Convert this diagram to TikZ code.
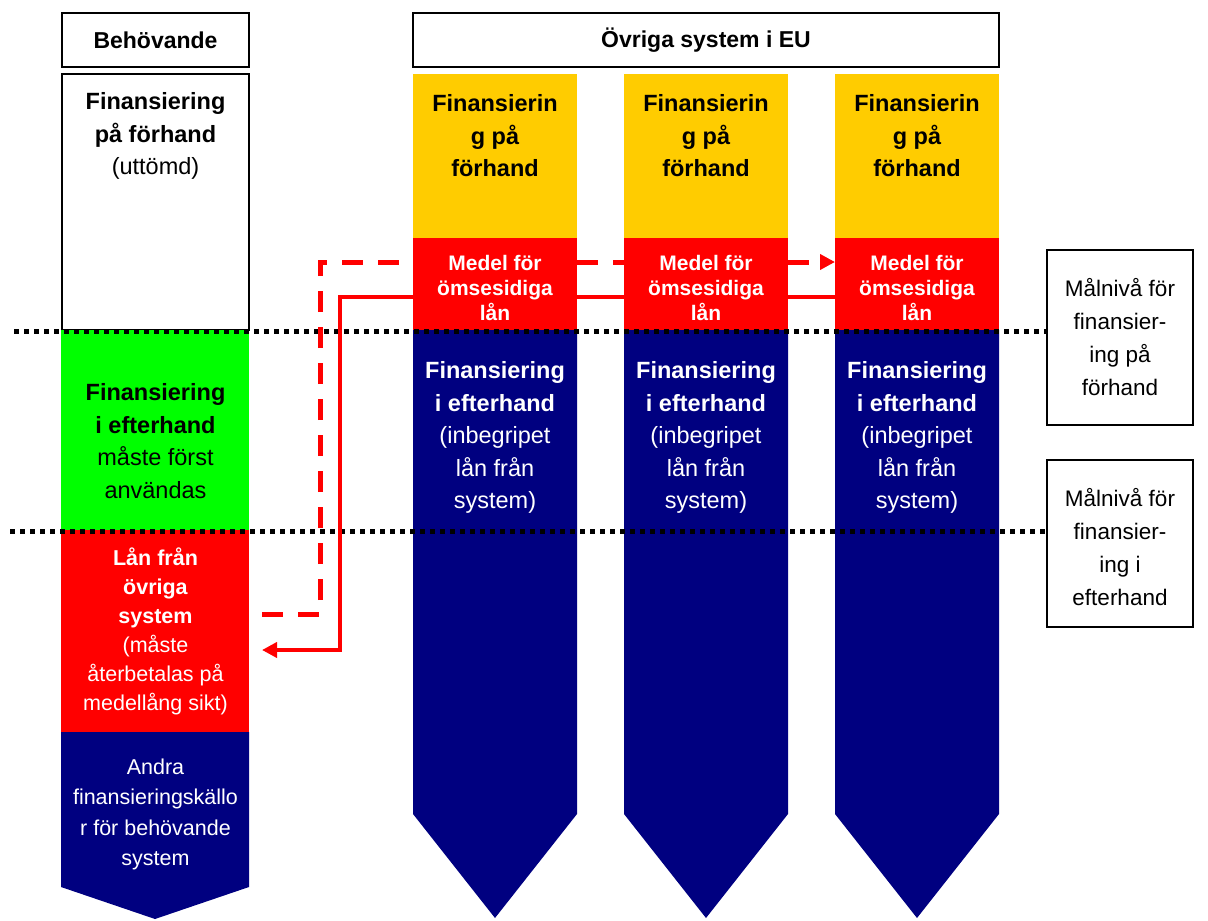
\documentclass[tikz,border=0pt]{standalone}
\usepackage{fontspec}
\setmainfont{Liberation Sans}
\usetikzlibrary{arrows.meta}

\definecolor{guld}{HTML}{FFCC00}
\definecolor{rod}{HTML}{FF0000}
\definecolor{gron}{HTML}{00FF00}
\definecolor{marin}{HTML}{000080}

\tikzset{
  falt/.style={inner sep=0, outer sep=0, anchor=north west},
  ram/.style={falt, draw=black, line width=2pt},
  stor/.style={align=center, inner sep=0, font=\fontsize{23.5}{32.5}\selectfont},
  mellan/.style={align=center, inner sep=0, font=\fontsize{21.5}{29}\selectfont},
  liten/.style={align=center, inner sep=0, font=\bfseries\fontsize{21}{25}\selectfont},
  prick/.style={line width=5pt, dash pattern=on 5pt off 5pt},
  lanstreck/.style={rod, line width=5pt, dash pattern=on 21pt off 15pt},
  lanlinje/.style={rod, line width=4pt},
  spets/.style={-{Triangle[length=15pt, width=15pt]}},
}

\begin{document}
\begin{tikzpicture}[x=1pt, y=-1pt]
    \useasboundingbox (0,0) rectangle (1208,921);

    % Headers
    \node[ram, stor, font=\bfseries\fontsize{23}{28}\selectfont, minimum width=187, minimum height=54] (behov) at (62,13) {Behövande};
    \node[ram, stor, font=\bfseries\fontsize{23}{28}\selectfont, minimum width=586, minimum height=54] (ovriga) at (413,13) {Övriga system i EU};

    % Behövande system
    \node[ram, minimum width=187, minimum height=256] (forhand0) at (62,74) {};
    \node[falt, fill=gron, minimum width=188, minimum height=200] (efter0) at (61,330) {};
    \node[falt, fill=rod, minimum width=188, minimum height=202] (lan0) at (61,530) {};
    \fill[marin] (61,732) -- (249,732) -- (249,887) -- (155,919) -- (61,887) -- cycle;
    \node[stor] (forhand0txt) at (155.5,136) {\textbf{Finansiering}\\ \textbf{på förhand}\\ (uttömd)};
    \node[stor] (efter0txt) at (155.5,441) {\textbf{Finansiering}\\ \textbf{i efterhand}\\ måste först\\ användas};
    \node[mellan, text=white] (lan0txt) at (155.5,631) {\textbf{Lån från}\\ \textbf{övriga}\\ \textbf{system}\\ (måste\\ återbetalas på\\ medellång sikt)};
    \node[mellan, text=white, font=\fontsize{21.5}{30.5}\selectfont] (andra0txt) at (155.5,814.5) {Andra\\ finansieringskällo\\ r för behövande\\ system};

    % Column 1
    \node[falt, fill=guld, minimum width=164, minimum height=164] (fh1) at (413,74) {};
    \node[falt, fill=rod, minimum width=164, minimum height=92] (medel1) at (413,238) {};
    \fill[marin] (413,330) -- (577,330) -- (577,814) -- (495,918) -- (413,814) -- cycle;
    \node[stor] (fh1txt) at (495,136) {\textbf{Finansierin}\\ \textbf{g på}\\ \textbf{förhand}};
    \node[liten, text=white] (medel1txt) at (495,288) {Medel för\\ ömsesidiga\\ lån};
    \node[stor, text=white] (eh1txt) at (495,437.5) {\textbf{Finansiering}\\ \textbf{i efterhand}\\ (inbegripet\\ lån från\\ system)};

    % Column 2
    \node[falt, fill=guld, minimum width=164, minimum height=164, xshift=211] (fh2) at (413,74) {};
    \node[falt, fill=rod, minimum width=164, minimum height=92, xshift=211] (medel2) at (413,238) {};
    \fill[marin, xshift=211] (413,330) -- (577,330) -- (577,814) -- (495,918) -- (413,814) -- cycle;
    \node[stor, xshift=211] (fh2txt) at (495,136) {\textbf{Finansierin}\\ \textbf{g på}\\ \textbf{förhand}};
    \node[liten, text=white, xshift=211] (medel2txt) at (495,288) {Medel för\\ ömsesidiga\\ lån};
    \node[stor, text=white, xshift=211] (eh2txt) at (495,437.5) {\textbf{Finansiering}\\ \textbf{i efterhand}\\ (inbegripet\\ lån från\\ system)};

    % Column 3
    \node[falt, fill=guld, minimum width=164, minimum height=164, xshift=422] (fh3) at (413,74) {};
    \node[falt, fill=rod, minimum width=164, minimum height=92, xshift=422] (medel3) at (413,238) {};
    \fill[marin, xshift=422] (413,330) -- (577,330) -- (577,814) -- (495,918) -- (413,814) -- cycle;
    \node[stor, xshift=422] (fh3txt) at (495,136) {\textbf{Finansierin}\\ \textbf{g på}\\ \textbf{förhand}};
    \node[liten, text=white, xshift=422] (medel3txt) at (495,288) {Medel för\\ ömsesidiga\\ lån};
    \node[stor, text=white, xshift=422] (eh3txt) at (495,437.5) {\textbf{Finansiering}\\ \textbf{i efterhand}\\ (inbegripet\\ lån från\\ system)};

    % Target levels
    \node[ram, minimum width=146, minimum height=175] (malfh) at (1047,250) {};
    \node[ram, minimum width=146, minimum height=167] (maleh) at (1047,460) {};
    \node[stor, font=\fontsize{22.5}{33}\selectfont] (malfhtxt) at (malfh.center) {Målnivå för\\ finansier-\\ ing på\\ förhand};
    \node[stor, font=\fontsize{22.5}{33}\selectfont, yshift=-3.5] (malehtxt) at (maleh.center) {Målnivå för\\ finansier-\\ ing i\\ efterhand};

    % Dotted level lines
    \coordinate (prick1) at (14,331);
    \coordinate (prick2) at (10,531);
    \draw[prick] (prick1) -- (prick1 -| malfh.west);
    \draw[prick] (prick2) -- (prick2 -| maleh.west);

    % Lending between systems
    \coordinate (lanut) at (262,614);
    \coordinate (lanin) at (262,650);
    \coordinate (vandut) at (320,262);
    \coordinate (vandin) at (340,297);
    \draw[lanstreck] (lanut) -| (vandut) -- (vandut -| medel1.west);
    \draw[lanstreck] (vandut -| medel1.east) -- (vandut -| medel2.west);
    \draw[lanstreck, spets] (vandut -| medel2.east) -- (vandut -| medel3.west);
    \draw[lanlinje] (vandin -| medel3.west) -- (vandin -| medel2.east);
    \draw[lanlinje] (vandin -| medel2.west) -- (vandin -| medel1.east);
    \draw[lanlinje, spets] (vandin -| medel1.west) -- (vandin) |- (lanin);
\end{tikzpicture}
\end{document}
